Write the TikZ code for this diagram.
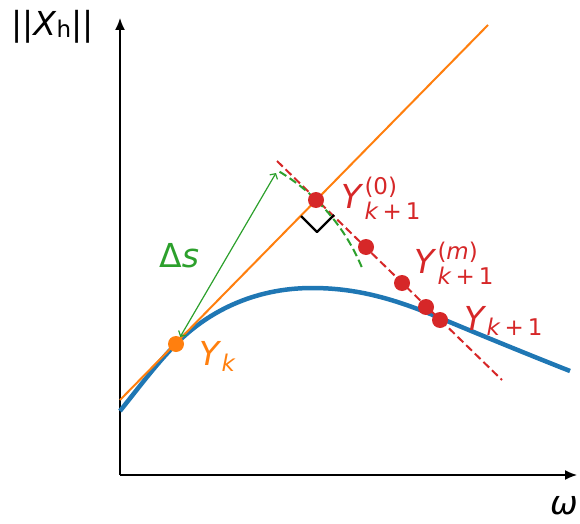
\documentclass[tikz,border=0pt]{standalone}
\usepackage{fontspec}
\setmainfont{DejaVu Sans}
\usetikzlibrary{arrows.meta}
\definecolor{tabblue}{HTML}{1F77B4}
\definecolor{taborange}{HTML}{FF7F0E}
\definecolor{tabgreen}{HTML}{2CA02C}
\definecolor{tabred}{HTML}{D62728}
\newcommand{\subfont}{\fontsize{23}{26}\selectfont}
\newcommand{\kpo}{\textit{k}\hspace{4pt}+\hspace{4pt}1}
\newcommand{\ysub}[2]{\textit{Y}{\subfont\raisebox{-#2}{#1}}}
\newcommand{\ysubsup}[2]{\textit{Y}\hspace{1pt}{\subfont\rlap{\raisebox{14pt}{#2}}\raisebox{-11pt}{#1}}}
\tikzset{
  axis/.style={line width=1.5pt, -{Latex[length=12pt,width=10pt]}},
  curve/.style={tabblue, line width=4.5pt},
  tangent/.style={taborange, line width=2pt},
  corrector/.style={tabred, line width=2pt, dash pattern=on 8pt off 4pt},
  dot/.style={circle, inner sep=0pt, minimum size=16pt},
  lab/.style={anchor=base west, inner sep=0pt},
}
\begin{document}
\begin{tikzpicture}[x=1pt, y=1pt, font=\fontsize{33}{40}\selectfont, line join=round]
\useasboundingbox (0,0) rectangle (580,523);
% axes
\coordinate (O) at (120,48);
\coordinate (xend) at (577,48);
\coordinate (yend) at (120,505);
\draw[axis] (O) -- (xend);
\draw[axis] (O) -- (yend);
\node[lab] (ylab) at (11,487) {||\textit{X}{\subfont\raisebox{-2pt}{h}}||};
\node[lab] (xlab) at (550,9) {\textit{ω}};
% solution curve
\draw[curve] (120,112) .. controls (140,137) and (156,158.6) .. (176,179)
  .. controls (206,209.6) and (252,235) .. (312,235)
  .. controls (357,235) and (395,224) .. (440,205)
  .. controls (483,187) and (527,169) .. (570,152);
% predictor
\coordinate (tanA) at (120,123);
\coordinate (tanB) at (488,498);
\draw[tangent] (tanA) -- (tanB);
% corrector
\coordinate (corA) at (277,362);
\coordinate (corB) at (502,143);
\draw[corrector] (corA) -- (corB);
\coordinate (ra1) at (301,307);
\coordinate (ra2) at (317,291);
\coordinate (ra3) at (334,308);
\draw[line width=2.2pt] (ra1) -- (ra2) -- (ra3);
% arc length
\draw[tabgreen, line width=2pt, dash pattern=on 8pt off 4pt] (176,179) ++(59:201) arc (59:22.5:201);
\node[dot, fill=taborange] (yk) at (176,179) {};
\coordinate (dstip) at (276,350);
\draw[tabgreen, line width=1.2pt, arrows={Straight Barb[length=4pt,width=9pt]-Straight Barb[length=4pt,width=9pt]}] (yk) -- (dstip);
\node[lab, text=tabgreen] (ds) at (159,256) {Δ\textit{s}};
% iterates
\node[dot, fill=tabred] (y0) at (316,323) {};
\node[dot, fill=tabred] (y1) at (366,276) {};
\node[dot, fill=tabred] (ym) at (402,240) {};
\node[dot, fill=tabred] (y2) at (426,216) {};
\node[dot, fill=tabred] (yn) at (440,203) {};
\node[lab, text=taborange] (lyk) at (199,158) {\ysub{\textit{k}}{6pt}};
\node[lab, text=tabred] (ly0) at (341,315) {\ysubsup{\kpo}{(0)}};
\node[lab, text=tabred] (lym) at (414,250) {\ysubsup{\kpo}{(\textit{m})}};
\node[lab, text=tabred] (lyn) at (464,193) {\ysub{\kpo}{5pt}};
\end{tikzpicture}
\end{document}
